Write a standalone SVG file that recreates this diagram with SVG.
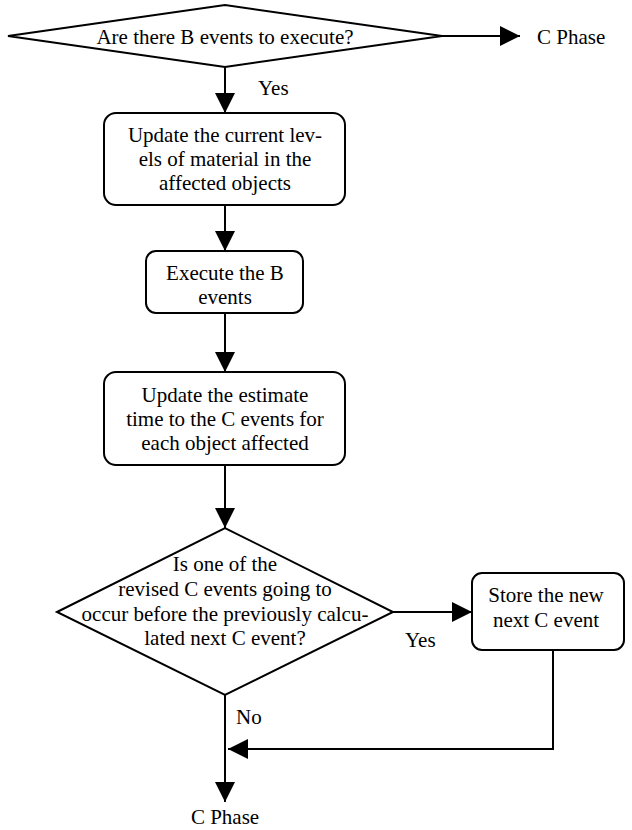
<svg xmlns="http://www.w3.org/2000/svg" width="632" height="830" viewBox="0 0 632 830" font-family="Liberation Serif, Tinos, Times New Roman, DejaVu Serif, serif" font-size="21">
<defs>
<style>
.shape{fill:#fff;stroke:#000;stroke-width:2}
.edge{fill:none;stroke:#000;stroke-width:2}
text{font-family:'Liberation Serif','Times New Roman','DejaVu Serif',serif;font-size:21px;fill:#000}
.c{text-anchor:middle}
</style>
<marker id="ah" markerUnits="userSpaceOnUse" markerWidth="20" markerHeight="20" refX="20" refY="10" orient="auto" viewBox="0 0 20 20">
<path d="M0,0 L20,10 L0,20 z" fill="#000"/>
</marker>
</defs>
<rect width="632" height="830" fill="#fff"/>
<g id="connectors">
<line class="edge" x1="442" y1="36" x2="520" y2="36" marker-end="url(#ah)"/>
<line class="edge" x1="225" y1="67" x2="225" y2="113" marker-end="url(#ah)"/>
<line class="edge" x1="225" y1="205" x2="225" y2="251" marker-end="url(#ah)"/>
<line class="edge" x1="225" y1="313" x2="225" y2="372" marker-end="url(#ah)"/>
<line class="edge" x1="225" y1="465" x2="225" y2="528" marker-end="url(#ah)"/>
<line class="edge" x1="393" y1="612" x2="472" y2="612" marker-end="url(#ah)"/>
<polyline class="edge" points="553,650 553,749 228,749" marker-end="url(#ah)"/>
<line class="edge" x1="225" y1="695" x2="225" y2="802" marker-end="url(#ah)"/>
<text x="258" y="95">Yes</text>
<text x="405" y="647">Yes</text>
<text x="236" y="724">No</text>
<text x="537" y="44">C Phase</text>
<text class="c" x="225" y="824">C Phase</text>
</g>
<g id="decision1">
<polygon class="shape" points="8,36 225,5 442,36 225,67"/>
<text class="c" x="225" y="44">Are there B events to execute?</text>
</g>
<g id="update-levels">
<rect class="shape" x="104" y="113" width="241" height="92" rx="12"/>
<text class="c" x="225" y="142">Update the current lev-</text>
<text class="c" x="225" y="166">els of material in the</text>
<text class="c" x="225" y="190">affected objects</text>
</g>
<g id="execute-b">
<rect class="shape" x="146" y="251" width="157" height="62" rx="10"/>
<text class="c" x="225" y="280">Execute the B</text>
<text class="c" x="225" y="304">events</text>
</g>
<g id="update-estimate">
<rect class="shape" x="104" y="372" width="241" height="93" rx="12"/>
<text class="c" x="225" y="402">Update the estimate</text>
<text class="c" x="225" y="426">time to the C events for</text>
<text class="c" x="225" y="450">each object affected</text>
</g>
<g id="decision2">
<polygon class="shape" points="57,612 225,528 393,612 225,695"/>
<text class="c" x="225" y="571">Is one of the</text>
<text class="c" x="225" y="596">revised C events going to</text>
<text class="c" x="225" y="621">occur before the previously calcu-</text>
<text class="c" x="225" y="645">lated next C event?</text>
</g>
<g id="store-next">
<rect class="shape" x="472" y="573" width="152" height="77" rx="10"/>
<text class="c" x="546" y="602">Store the new</text>
<text class="c" x="546" y="627">next C event</text>
</g>
</svg>
